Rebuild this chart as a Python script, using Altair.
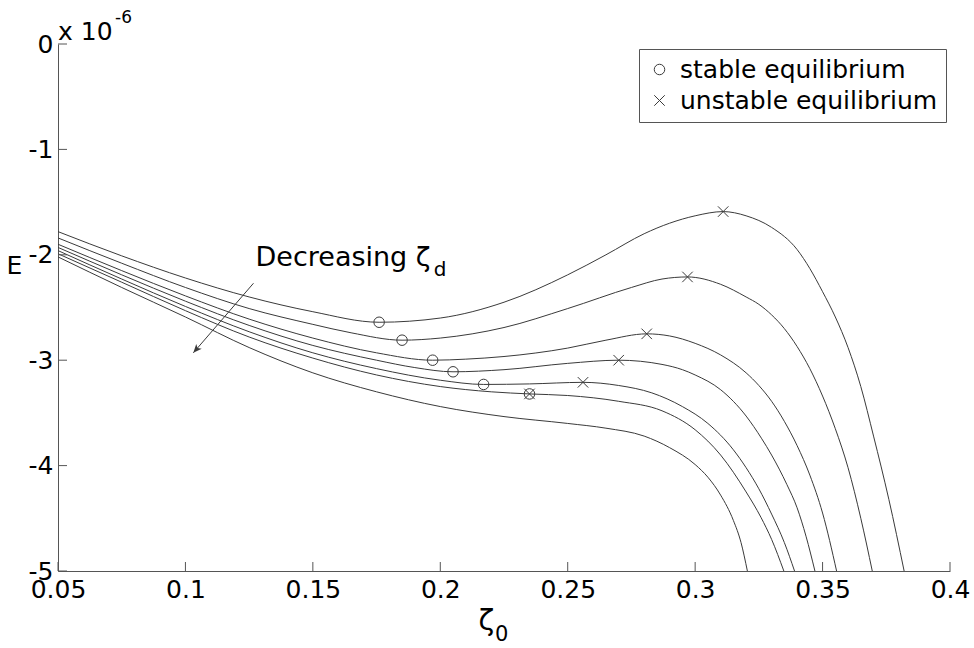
import math
import altair as alt
import pandas as pd

# ---------------- data ----------------
x_ticks = [0.05, 0.1, 0.15, 0.2, 0.25, 0.3, 0.35, 0.4]
y_ticks = [-5, -4, -3, -2, -1, 0]

c1_x = [0.05, 0.075, 0.1, 0.125, 0.15, 0.176, 0.2, 0.225, 0.25, 0.265, 0.28, 0.29, 0.3, 0.311, 0.32, 0.33, 0.34, 0.345, 0.35, 0.355, 0.36, 0.365, 0.37, 0.376, 0.382]
c1_y = [-1.78, -2.01, -2.22, -2.40, -2.54, -2.64, -2.60, -2.45, -2.19, -2.00, -1.80, -1.70, -1.63, -1.59, -1.63, -1.74, -1.95, -2.13, -2.35, -2.59, -2.88, -3.25, -3.72, -4.32, -5.0]

c2_x = [0.05, 0.075, 0.1, 0.125, 0.15, 0.165, 0.185, 0.2, 0.225, 0.25, 0.275, 0.287, 0.297, 0.31, 0.32, 0.325, 0.33, 0.335, 0.34, 0.345, 0.35, 0.355, 0.36, 0.365, 0.3695]
c2_y = [-1.84, -2.08, -2.31, -2.51, -2.66, -2.74, -2.81, -2.79, -2.69, -2.51, -2.31, -2.23, -2.21, -2.28, -2.40, -2.47, -2.57, -2.70, -2.87, -3.08, -3.34, -3.65, -4.02, -4.50, -5.0]

c3_x = [0.05, 0.075, 0.1, 0.125, 0.15, 0.175, 0.197, 0.21, 0.225, 0.25, 0.265, 0.281, 0.29, 0.3, 0.31, 0.32, 0.325, 0.33, 0.335, 0.34, 0.345, 0.35, 0.3555]
c3_y = [-1.90, -2.15, -2.39, -2.61, -2.79, -2.93, -3.00, -2.99, -2.965, -2.885, -2.81, -2.75, -2.77, -2.84, -2.95, -3.12, -3.24, -3.39, -3.58, -3.81, -4.09, -4.45, -5.0]

c4_x = [0.05, 0.075, 0.1, 0.125, 0.15, 0.175, 0.19, 0.205, 0.225, 0.25, 0.27, 0.287, 0.295, 0.3, 0.31, 0.32, 0.326, 0.33, 0.336, 0.34, 0.3435, 0.347]
c4_y = [-1.93, -2.19, -2.44, -2.67, -2.86, -3.00, -3.07, -3.11, -3.09, -3.03, -3.00, -3.04, -3.09, -3.14, -3.28, -3.53, -3.74, -3.90, -4.18, -4.40, -4.67, -5.0]

c5_x = [0.05, 0.075, 0.1, 0.125, 0.15, 0.175, 0.2, 0.217, 0.235, 0.256, 0.27, 0.283, 0.295, 0.305, 0.315, 0.32, 0.325, 0.33, 0.335, 0.339]
c5_y = [-1.96, -2.23, -2.49, -2.73, -2.93, -3.08, -3.19, -3.23, -3.225, -3.21, -3.24, -3.31, -3.44, -3.60, -3.85, -4.02, -4.22, -4.46, -4.73, -5.0]

c6_x = [0.05, 0.075, 0.1, 0.125, 0.15, 0.175, 0.2, 0.22, 0.235, 0.25, 0.27, 0.287, 0.3, 0.31, 0.32, 0.3258, 0.33, 0.3348]
c6_y = [-1.99, -2.26, -2.53, -2.78, -2.98, -3.14, -3.25, -3.30, -3.32, -3.335, -3.39, -3.48, -3.66, -3.90, -4.25, -4.49, -4.70, -5.0]

c7_x = [0.05, 0.075, 0.1, 0.125, 0.15, 0.175, 0.2, 0.225, 0.25, 0.265, 0.28, 0.29, 0.3, 0.305, 0.31, 0.315, 0.318, 0.3205]
c7_y = [-2.02, -2.31, -2.59, -2.88, -3.12, -3.30, -3.44, -3.535, -3.60, -3.645, -3.72, -3.83, -3.99, -4.11, -4.28, -4.52, -4.73, -5.0]

stable_x = [0.176, 0.185, 0.197, 0.205, 0.217, 0.235]
stable_y = [-2.64, -2.81, -3.00, -3.11, -3.23, -3.32]
unstable_x = [0.311, 0.297, 0.281, 0.270, 0.256, 0.235]
unstable_y = [-1.59, -2.21, -2.75, -3.00, -3.21, -3.32]
legend_labels = ["stable equilibrium", "unstable equilibrium"]

arrow_x = [0.1267, 0.1031]
arrow_y = [-2.27, -2.93]
note_text = "Decreasing ζ"
note_x, note_y = 0.1275, -2.108
note_sub_x, note_sub_y = 0.1974, -2.203
xtitle_main, xtitle_sub = "ζ", "0"

# ---------------- layout / style ----------------
W, H = 892, 527
X_DOM = [0.05, 0.4]
Y_DOM = [-5, 0]
FONT = "DejaVu Sans"
INK = "#3a3a3a"
AXC = "#555555"
TICK_PX = 9

xs = alt.Scale(domain=X_DOM, nice=False, zero=False)
ys = alt.Scale(domain=Y_DOM, nice=False, zero=False)

x_axis = alt.Axis(values=x_ticks, format="~g", ticks=False, grid=False,
                  domainColor=AXC, domainWidth=1, labelFont=FONT, labelFontSize=25,
                  labelColor="black", labelPadding=6, labelFlush=False, labelOverlap=False,
                  title=xtitle_main, titleFont=FONT, titleFontSize=29, titleFontWeight="normal",
                  titleColor="black", titleX=428, titleY=35, titleAlign="center",
                  titleBaseline="top")
y_axis = alt.Axis(values=y_ticks, labelExpr="'' + datum.value", ticks=False, grid=False,
                  domainColor=AXC, domainWidth=1, labelFont=FONT, labelFontSize=25,
                  labelColor="black", labelPadding=5, labelFlush=False, labelOverlap=False,
                  title="E", titleFont=FONT, titleFontSize=25, titleFontWeight="normal",
                  titleColor="black", titleAngle=0, titleX=-44, titleY=221,
                  titleAlign="center", titleBaseline="middle")


def X():
    return alt.X("x:Q", scale=xs, axis=x_axis)


def Y():
    return alt.Y("y:Q", scale=ys, axis=y_axis)


rows = []
for i, (cx, cy) in enumerate([(c1_x, c1_y), (c2_x, c2_y), (c3_x, c3_y), (c4_x, c4_y),
                              (c5_x, c5_y), (c6_x, c6_y), (c7_x, c7_y)]):
    for a, b in zip(cx, cy):
        rows.append({"curve": i, "x": a, "y": b})
df_lines = pd.DataFrame(rows)

pts = [{"x": a, "y": b, "kind": legend_labels[0]} for a, b in zip(stable_x, stable_y)] + \
      [{"x": a, "y": b, "kind": legend_labels[1]} for a, b in zip(unstable_x, unstable_y)]
df_pts = pd.DataFrame(pts)

# inward ticks
tx = TICK_PX * (X_DOM[1] - X_DOM[0]) / W
ty = TICK_PX * (Y_DOM[1] - Y_DOM[0]) / H
df_xt = pd.DataFrame({"x": x_ticks, "y": [Y_DOM[0]] * len(x_ticks), "y2": [Y_DOM[0] + ty] * len(x_ticks)})
df_yt = pd.DataFrame({"x": [X_DOM[0]] * len(y_ticks), "x2": [X_DOM[0] + tx] * len(y_ticks), "y": y_ticks})

lines = alt.Chart(df_lines).mark_line(interpolate="monotone", color=INK, strokeWidth=1, clip=True).encode(
    x=X(), y=Y(), detail="curve:N")

xt = alt.Chart(df_xt).mark_rule(color=AXC, strokeWidth=1).encode(x=X(), y=Y(), y2="y2:Q")
yt = alt.Chart(df_yt).mark_rule(color=AXC, strokeWidth=1).encode(x=X(), x2="x2:Q", y=Y())

XPATH = "M-1,-1L1,1M-1,1L1,-1"
points = alt.Chart(df_pts).mark_point(filled=False, color=INK, strokeWidth=1, size=110, opacity=1).encode(
    x=X(), y=Y(),
    shape=alt.Shape("kind:N", scale=alt.Scale(domain=legend_labels, range=["circle", XPATH]),
                    legend=alt.Legend(title=None, orient="none", legendX=581, legendY=5,
                                      labelFont=FONT, labelFontSize=25, labelColor="black",
                                      labelLimit=500,
                                      strokeColor=AXC, fillColor="white", padding=8,
                                      symbolSize=110, symbolStrokeColor=INK, symbolStrokeWidth=1,
                                      symbolFillColor="transparent", rowPadding=5, labelOffset=8)))

df_arrow = pd.DataFrame({"x": [arrow_x[0]], "y": [arrow_y[0]], "x2": [arrow_x[1]], "y2": [arrow_y[1]]})
shaft = alt.Chart(df_arrow).mark_rule(color=INK, strokeWidth=1).encode(x=X(), y=Y(), x2="x2:Q", y2="y2:Q")

dxp = (arrow_x[1] - arrow_x[0]) * W / (X_DOM[1] - X_DOM[0])
dyp = -(arrow_y[1] - arrow_y[0]) * H / (Y_DOM[1] - Y_DOM[0])
ang = math.degrees(math.atan2(dxp, -dyp)) % 360
head = alt.Chart(pd.DataFrame({"x": [arrow_x[1]], "y": [arrow_y[1]]})).mark_point(
    shape="M0,0L-0.42,1L0,0.75L0.42,1Z", filled=True, color=INK, size=300, angle=ang, opacity=1
).encode(x=X(), y=Y())

note = alt.Chart(pd.DataFrame({"x": [note_x], "y": [note_y], "t": [note_text]})).mark_text(
    align="left", baseline="alphabetic", font=FONT, fontSize=27, color="black").encode(x=X(), y=Y(), text="t:N")
note_sub = alt.Chart(pd.DataFrame({"x": [note_sub_x], "y": [note_sub_y], "t": ["d"]})).mark_text(
    align="left", baseline="alphabetic", font=FONT, fontSize=20, color="black").encode(x=X(), y=Y(), text="t:N")

# subscript of the x-axis title, placed just right of the axis title
xsub = alt.Chart(pd.DataFrame({"x": [X_DOM[0] + (X_DOM[1] - X_DOM[0]) * 437 / W], "y": [Y_DOM[0]], "t": [xtitle_sub]})).mark_text(
    align="left", baseline="alphabetic", font=FONT, fontSize=21, color="black", dy=70).encode(
    x=X(), y=Y(), text="t:N")

exp_base = alt.Chart(pd.DataFrame({"x": [X_DOM[0]], "y": [Y_DOM[1]], "t": ["x 10"]})).mark_text(
    align="left", baseline="alphabetic", font=FONT, fontSize=25, color="black", dx=0, dy=-4).encode(
    x=X(), y=Y(), text="t:N")
exp_pow = alt.Chart(pd.DataFrame({"x": [X_DOM[0]], "y": [Y_DOM[1]], "t": ["-6"]})).mark_text(
    align="left", baseline="alphabetic", font=FONT, fontSize=17, color="black", dx=57, dy=-21).encode(
    x=X(), y=Y(), text="t:N")

chart = alt.layer(lines, xt, yt, shaft, head, points, note, note_sub, xsub, exp_base, exp_pow).properties(
    width=W, height=H,
    autosize=alt.AutoSizeParams(type="none"),
    padding={"left": 58, "top": 44, "right": 24, "bottom": 77},
    background="white",
).configure_view(stroke=None)

chart.save("out.html", embed_options={"renderer": "svg", "actions": False})
